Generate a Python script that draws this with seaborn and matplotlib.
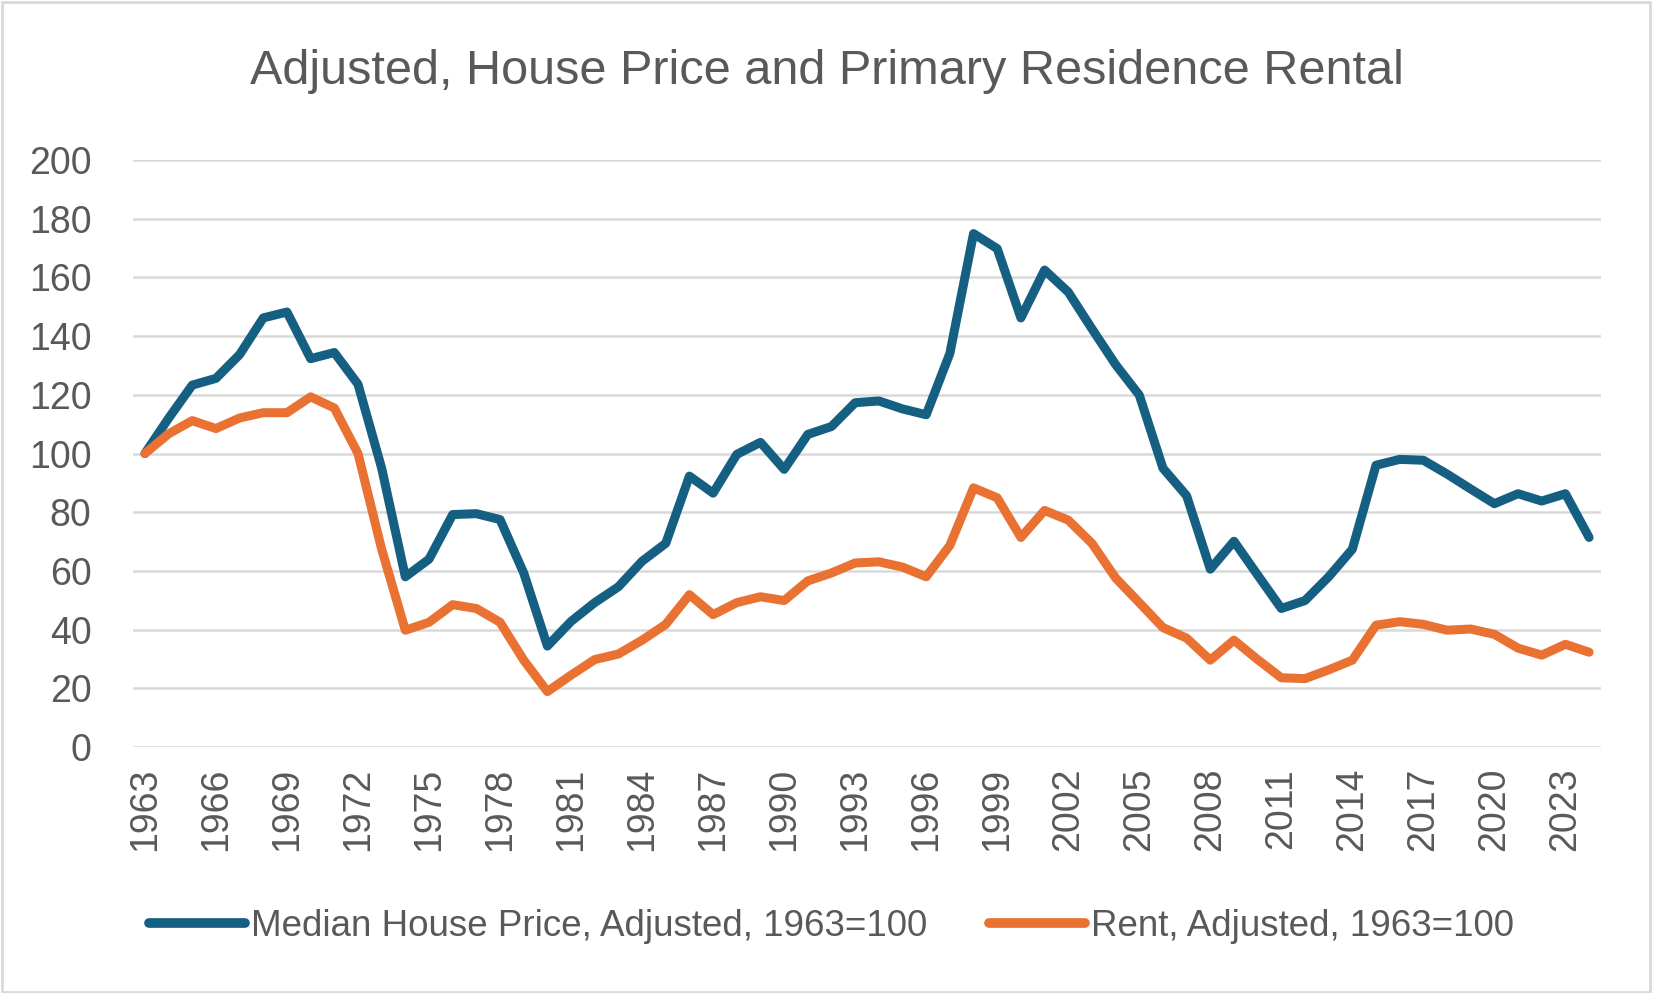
import pandas as pd
import matplotlib.pyplot as plt
import seaborn as sns
from matplotlib.patches import Rectangle

years = list(range(1963, 2025))

house_price = [100, 112, 123.3, 125.6, 133.7, 146.2, 148.2, 132.3, 134.4, 123.6,
               95, 58, 64, 79.2, 79.5, 77.5, 59.3, 34.4, 42.8, 49.2,
               54.6, 63.3, 69.4, 92.3, 86.5, 99.7, 103.8, 94.6, 106.5, 109.2,
               117.3, 117.9, 115.2, 113.2, 134.1, 174.9, 169.8, 146.2, 162.5, 155.0,
               142.5, 130.3, 119.9, 95.0, 85.6, 60.6, 70.1, 58.6, 47.2, 49.9,
               58.0, 67.4, 96.0, 98.0, 97.7, 93.0, 87.9, 82.9, 86.3, 83.8,
               86.3, 71.4]

rent = [100, 106.7, 111.2, 108.5, 112.1, 113.9, 113.9, 119.3, 115.5, 100,
        67.4, 39.8, 42.5, 48.5, 47.2, 42.5, 29.6, 18.9, 24.5, 29.8,
        31.7, 36.4, 41.8, 51.9, 45.1, 49.2, 51.2, 49.9, 56.6, 59.3,
        62.7, 63.1, 61.3, 58.0, 68.7, 88.3, 84.9, 71.4, 80.6, 77.3,
        69.4, 57.6, 49.2, 40.7, 37.1, 29.6, 36.4, 29.8, 23.6, 23.3,
        26.3, 29.6, 41.5, 42.7, 41.8, 39.8, 40.2, 38.4, 33.7, 31.3,
        35.0, 32.3]

series_names = ["Median House Price, Adjusted, 1963=100", "Rent, Adjusted, 1963=100"]
colors = ["#156082", "#E97132"]
x_ticks = list(range(1963, 2024, 3))
y_ticks = list(range(0, 201, 20))

df = pd.DataFrame({
    "year": years * 2,
    "value": house_price + rent,
    "series": [series_names[0]] * len(years) + [series_names[1]] * len(years),
})

sns.set_theme(style="white")
plt.rcParams["font.family"] = ["Liberation Sans", "DejaVu Sans"]
text_color = "#595959"
grid_color = "#D9D9D9"

fig = plt.figure(figsize=(16.53, 9.93), dpi=100)
ax = fig.add_axes([0.0805, 0.2477, 0.888, 0.5912])

sns.lineplot(data=df, x="year", y="value", hue="series", palette=colors,
             linewidth=6.5, ax=ax, legend=True)
for line in ax.get_lines():
    line.set_solid_capstyle("round")
    line.set_solid_joinstyle("round")

ax.set_xlim(1962.5, 2024.5)
ax.set_ylim(0, 200)
ax.set_xticks(x_ticks)
ax.set_xticklabels([str(y) for y in x_ticks], rotation=90, fontsize=27, color=text_color)
ax.set_yticks(y_ticks)
ax.set_yticklabels([str(v) for v in y_ticks], fontsize=27, color=text_color)
ax.tick_params(axis="y", length=0, pad=30)
ax.tick_params(axis="x", length=0, pad=15)
ax.yaxis.grid(True, color=grid_color, linewidth=1.8)
ax.set_axisbelow(True)
for side in ["top", "right", "left", "bottom"]:
    ax.spines[side].set_visible(False)
ax.set_xlabel("")
ax.set_ylabel("")

handles, labels = ax.get_legend_handles_labels()
ax.legend_.remove()
leg = fig.legend(handles, labels, loc="center", bbox_to_anchor=(0.503, 0.067), ncol=2,
                 frameon=False, fontsize=26.5, handlelength=2.6, handletextpad=0.15,
                 columnspacing=1.7)
for t in leg.get_texts():
    t.set_color(text_color)
for h in leg.get_lines():
    h.set_linewidth(7)
    h.set_solid_capstyle("round")

fig.text(0.5, 0.928, "Adjusted, House Price and Primary Residence Rental",
         ha="center", va="center", fontsize=35, color=text_color)

fig.patches.append(Rectangle((0.001, 0.001), 0.997, 0.997, transform=fig.transFigure,
                             fill=False, edgecolor=grid_color, linewidth=2))

fig.savefig("out.png", dpi=100, facecolor="white")
